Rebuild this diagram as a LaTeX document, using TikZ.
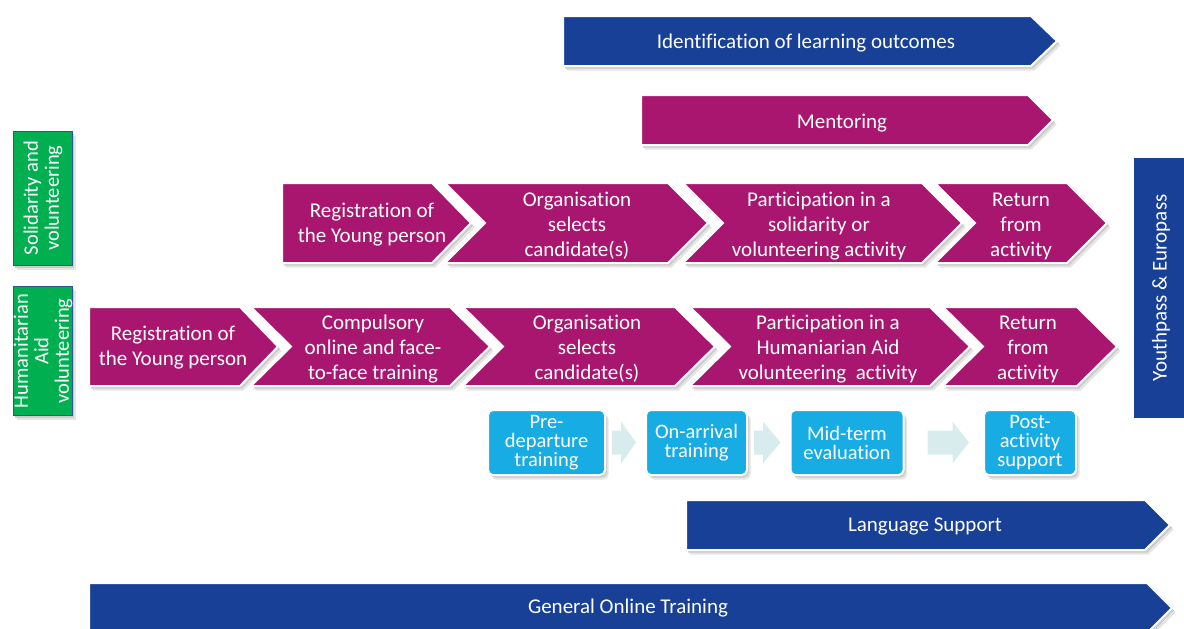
\documentclass[tikz,border=0pt]{standalone}
\usepackage{fontspec}
\setmainfont{Carlito}[RawFeature={-liga}]
\usetikzlibrary{calc}
\definecolor{ebl}{RGB}{23,64,150}
\definecolor{mag}{RGB}{168,22,112}
\definecolor{grn}{RGB}{0,176,80}
\definecolor{sky}{RGB}{24,172,228}
\definecolor{pale}{RGB}{216,236,238}
\definecolor{bord}{RGB}{47,85,151}
\tikzset{
  shp/.style={fill=#1, draw=white, line width=2pt, line join=miter,
    preaction={fill=black!10, draw=none, transform canvas={shift={(3.5pt,-4.5pt)}}},
    preaction={fill=black!20, draw=none, transform canvas={shift={(2pt,-2.5pt)}}}},
  txt/.style={text=white, align=center, inner sep=0pt, yshift=-2pt, font=\fontsize{21}{25}\selectfont},
  stxt/.style={text=white, align=center, inner sep=0pt, font=\fontsize{20.5}{21}\selectfont},
  skybox/.style={shp=sky, rounded corners=5pt, minimum height=65pt, inner sep=0pt, align=center,
    text=white, font=\fontsize{20.5}{19}\selectfont},
  palearrow/.style={fill=pale},
}
% pentagon: L R T B d colour
\newcommand\mypent[6]{\path[shp=#6] (#1,#3) -- (#2,#3) -- ({#2+#5},{(#3+#4)/2}) -- (#2,#4) -- (#1,#4) -- cycle;}
% chevron: L R T B d colour
\newcommand\mychev[6]{\path[shp=#6] (#1,#3) -- (#2,#3) -- ({#2+#5},{(#3+#4)/2}) -- (#2,#4) -- (#1,#4) -- ({#1+#5},{(#3+#4)/2}) -- cycle;}
% block arrow from node a to node b
\newcommand\myblk[2]{\path[palearrow] ($(#1.east)+(6,-12)$) -- ($(#1.east)+(15,-12)$) -- ($(#1.east)+(15,-21)$)
  -- ($(#2.west)+(-9,0)$) -- ($(#1.east)+(15,21)$) -- ($(#1.east)+(15,12)$) -- ($(#1.east)+(6,12)$) -- cycle;}
\begin{document}
\begin{tikzpicture}[x=1pt,y=-1pt]
\useasboundingbox (0,0) rectangle (1184,629);
\clip (0,0) rectangle (1184,629);

% top bars
\mypent{563}{1031}{16}{66}{26}{ebl}
\node[txt] (ident) at (806,41) {Identification of learning outcomes};
\mypent{641}{1028}{95}{145}{25}{mag}
\node[txt] (ment) at (842,121) {Mentoring};

% left labels
\path[shp=grn, draw=bord, line width=1pt] (13,131) rectangle (72,265);
\node[stxt, rotate=90] (solid) at (43,198) {Solidarity and\\volunteering};
\path[shp=grn, draw=bord, line width=1pt] (13,286) rectangle (72,415);
\node[stxt, rotate=90, font=\fontsize{20.5}{20.5}\selectfont] (human) at (43,351) {Humanitarian\\Aid\\volunteering};

% Youthpass
\path[fill=ebl] (1134,158) rectangle (1190,418);
\node[txt, rotate=90, yshift=2pt, xshift=2pt] (youth) at (1163,288) {Youthpass \& Europass};

% row 1
\mypent{282}{432}{183}{263}{39}{mag}
\mychev{445}{668}{183}{263}{40}{mag}
\mychev{683}{922}{183}{263}{40}{mag}
\mychev{935}{1067}{183}{263}{40}{mag}
\node[txt] (r1a) at (372,222.5) {Registration of\\the Young person};
\node[txt] (r1b) at (577,224) {Organisation\\selects\\candidate(s)};
\node[txt] (r1c) at (819,224) {Participation in a\\solidarity or\\volunteering activity};
\node[txt] (r1d) at (1021,224) {Return\\from\\activity};

% row 2
\mypent{89}{240}{307}{386}{38}{mag}
\mychev{251}{450}{307}{386}{40}{mag}
\mychev{463}{675}{307}{386}{40}{mag}
\mychev{690}{930}{307}{386}{40}{mag}
\mychev{943}{1077}{307}{386}{40}{mag}
\node[txt] (r2a) at (173,345.5) {Registration of\\the Young person};
\node[txt] (r2b) at (373,347) {Compulsory\\online and face-\\to-face training};
\node[txt] (r2c) at (587,347) {Organisation\\selects\\candidate(s)};
\node[txt] (r2d) at (828,347) {Participation in a\\Humaniarian Aid\\volunteering\ \ activity};
\node[txt] (r2e) at (1028,347) {Return\\from\\activity};

% sky boxes
\node[skybox, minimum width=117pt] (pre) at (546.5,442.5) {Pre-\\departure\\training};
\node[skybox, minimum width=101pt] (arr) at (696.5,442.5) {On-arrival\\training};
\node[skybox, minimum width=113pt] (mid) at (847,442.5) {Mid-term\\evaluation};
\node[skybox, minimum width=92pt] (post) at (1030,442.5) {Post-\\activity\\support};
\myblk{pre}{arr}
\myblk{arr}{mid}
\path[palearrow] ($(mid.east)+(23,-12)$) -- ($(mid.east)+(48,-12)$) -- ($(mid.east)+(48,-21)$)
  -- ($(post.west)+(-14,0)$) -- ($(mid.east)+(48,21)$) -- ($(mid.east)+(48,12)$) -- ($(mid.east)+(23,12)$) -- cycle;

% bottom bars
\mypent{686}{1145}{500}{550}{25}{ebl}
\node[txt] (lang) at (925,524) {Language Support};
\mypent{89}{1147}{583}{633}{25}{ebl}
\node[txt] (gen) at (628,606) {General\ Online Training};
\end{tikzpicture}
\end{document}
